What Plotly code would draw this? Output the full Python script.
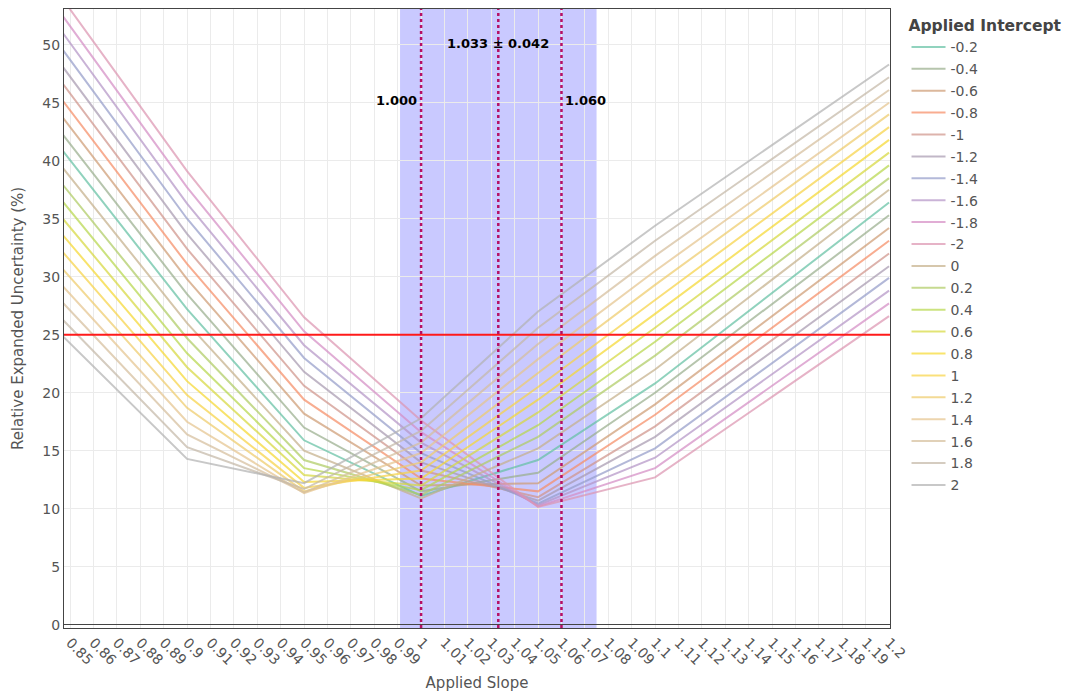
import numpy as np
import plotly.graph_objects as go

# Applied slopes at which the uncertainty was evaluated
slopes = [0.80, 0.90, 0.95, 1.00, 1.05, 1.10, 1.20]

# Applied intercepts, in legend order
intercepts = ["-0.2", "-0.4", "-0.6", "-0.8", "-1", "-1.2", "-1.4", "-1.6", "-1.8", "-2",
              "0", "0.2", "0.4", "0.6", "0.8", "1", "1.2", "1.4", "1.6", "1.8", "2"]

# Relative expanded uncertainty (%) per intercept, one list per applied slope
u_080 = [52.9, 54.4, 56.0, 57.6, 59.2, 60.8, 62.4, 64.0, 65.5, 67.0,
         51.2, 49.6, 48.0, 46.3, 44.7, 43.0, 41.2, 39.5, 37.8, 36.0, 34.2]
u_090 = [27.2, 28.5, 29.8, 31.1, 32.4, 33.7, 35.0, 36.3, 37.7, 39.1,
         26.0, 24.7, 23.4, 22.2, 21.0, 19.8, 18.7, 17.5, 16.4, 15.3, 14.3]
u_095 = [15.9, 17.0, 18.2, 19.4, 20.6, 21.8, 23.0, 24.1, 25.3, 26.5,
         15.0, 14.2, 13.5, 12.9, 12.3, 11.8, 11.5, 11.35, 11.4, 11.7, 12.2]
u_100 = [11.1, 11.5, 12.0, 12.6, 13.3, 14.0, 14.8, 15.7, 16.6, 17.6,
         10.9, 11.2, 11.6, 12.0, 12.6, 13.3, 14.0, 14.8, 15.7, 16.7, 17.8]
u_105 = [14.2, 13.1, 12.2, 11.5, 11.0, 10.7, 10.45, 10.3, 10.2, 10.15,
         15.2, 16.2, 17.2, 18.3, 19.4, 20.5, 21.7, 22.9, 24.2, 25.6, 27.0]
u_110 = [20.8, 20.0, 19.0, 18.1, 17.1, 16.2, 15.2, 14.4, 13.5, 12.7,
         22.0, 23.2, 24.4, 25.6, 26.8, 28.0, 29.3, 30.5, 31.8, 33.1, 34.4]
u_120 = [36.4, 35.3, 34.2, 33.1, 32.0, 30.9, 29.9, 28.8, 27.7, 26.6,
         37.5, 38.5, 39.6, 40.7, 41.8, 42.9, 44.0, 45.0, 46.1, 47.2, 48.3]

columns = [u_080, u_090, u_095, u_100, u_105, u_110, u_120]

# Slope estimate and its interval
slope_mean = 1.033
slope_halfwidth = 0.042
slope_lines = [1.000, 1.033, 1.060]
target_u = 25

# Set2 palette stretched over all intercept traces
set2 = ["#66c2a5", "#fc8d62", "#8da0cb", "#e78ac3",
        "#a6d854", "#ffd92f", "#e5c494", "#b3b3b3"]


def hex_rgb(h):
    h = h.lstrip("#")
    return np.array([int(h[i:i + 2], 16) for i in (0, 2, 4)], dtype=float)


anchors = np.array([hex_rgb(c) for c in set2])


def palette(n):
    out = []
    pos = np.linspace(0, len(anchors) - 1, n)
    for p in pos:
        i = min(int(np.floor(p)), len(anchors) - 2)
        t = p - i
        c = anchors[i] * (1 - t) + anchors[i + 1] * t
        out.append("rgb(%d,%d,%d)" % tuple(np.round(c)))
    return out


colors = palette(len(intercepts))
FONT = "DejaVu Sans"

fig = go.Figure()
for k, name in enumerate(intercepts):
    fig.add_trace(go.Scatter(
        x=slopes,
        y=[col[k] for col in columns],
        mode="lines",
        name=name,
        legendgroup=name,
        line=dict(color=colors[k], width=2),
        opacity=0.72,
    ))

# confidence band of the slope
fig.add_shape(type="rect", xref="x", yref="paper",
              x0=slope_mean - slope_halfwidth, x1=slope_mean + slope_halfwidth,
              y0=0, y1=1, fillcolor="rgba(0,0,255,0.21)", line_width=0,
              layer="below")

# acceptance limit
fig.add_shape(type="line", xref="paper", yref="y", x0=0, x1=1,
              y0=target_u, y1=target_u, line=dict(color="#ff1a1a", width=2))

for xv in slope_lines:
    fig.add_shape(type="line", xref="x", yref="paper", x0=xv, x1=xv,
                  y0=0, y1=1, line=dict(color="rgb(182,16,100)", width=2.5,
                                        dash="dot"))

ann_font = dict(family=FONT, size=13, color="black")
fig.add_annotation(x=slope_lines[0], y=45.2, text="<b>%.3f</b>" % slope_lines[0],
                   showarrow=False, xanchor="right", xshift=-2, font=ann_font)
fig.add_annotation(x=slope_lines[2], y=45.2, text="<b>%.3f</b>" % slope_lines[2],
                   showarrow=False, xanchor="left", xshift=2, font=ann_font)
fig.add_annotation(x=slope_mean, y=50.1,
                   text="<b>%.3f \u00b1 %.3f</b>" % (slope_mean, slope_halfwidth),
                   showarrow=False, xanchor="center", font=ann_font)

axis_common = dict(showgrid=True, gridcolor="#ebebeb", gridwidth=1,
                   showline=True, linecolor="#444", linewidth=1, mirror=True,
                   automargin=False,
                   ticks="", tickfont=dict(family=FONT, size=14, color="#555"))

fig.update_xaxes(range=[0.8474, 1.2004], dtick=0.01, tick0=0.85,
                 tickangle=45, zeroline=False,
                 title=dict(text="Applied Slope", standoff=10,
                            font=dict(family=FONT, size=15, color="#555")),
                 **axis_common)
fig.update_yaxes(range=[-0.28, 53.08], dtick=5, tick0=0,
                 zeroline=True, zerolinecolor="#444", zerolinewidth=1,
                 title=dict(text="Relative Expanded Uncertainty (%)",
                            font=dict(family=FONT, size=15, color="#555")),
                 **axis_common)

fig.update_layout(
    width=1077, height=695,
    margin=dict(l=64, r=187, t=9, b=67),
    paper_bgcolor="white", plot_bgcolor="white",
    font=dict(family=FONT, color="#555"),
    legend=dict(title=dict(text="<b>Applied Intercept</b>",
                           font=dict(family=FONT, size=15.5, color="#444")),
                font=dict(family=FONT, size=14, color="#555"),
                traceorder="grouped", tracegroupgap=0.7, itemwidth=34,
                x=1.02, xanchor="left", y=0.9965, yanchor="top"),
)

fig.write_html("out.html")
